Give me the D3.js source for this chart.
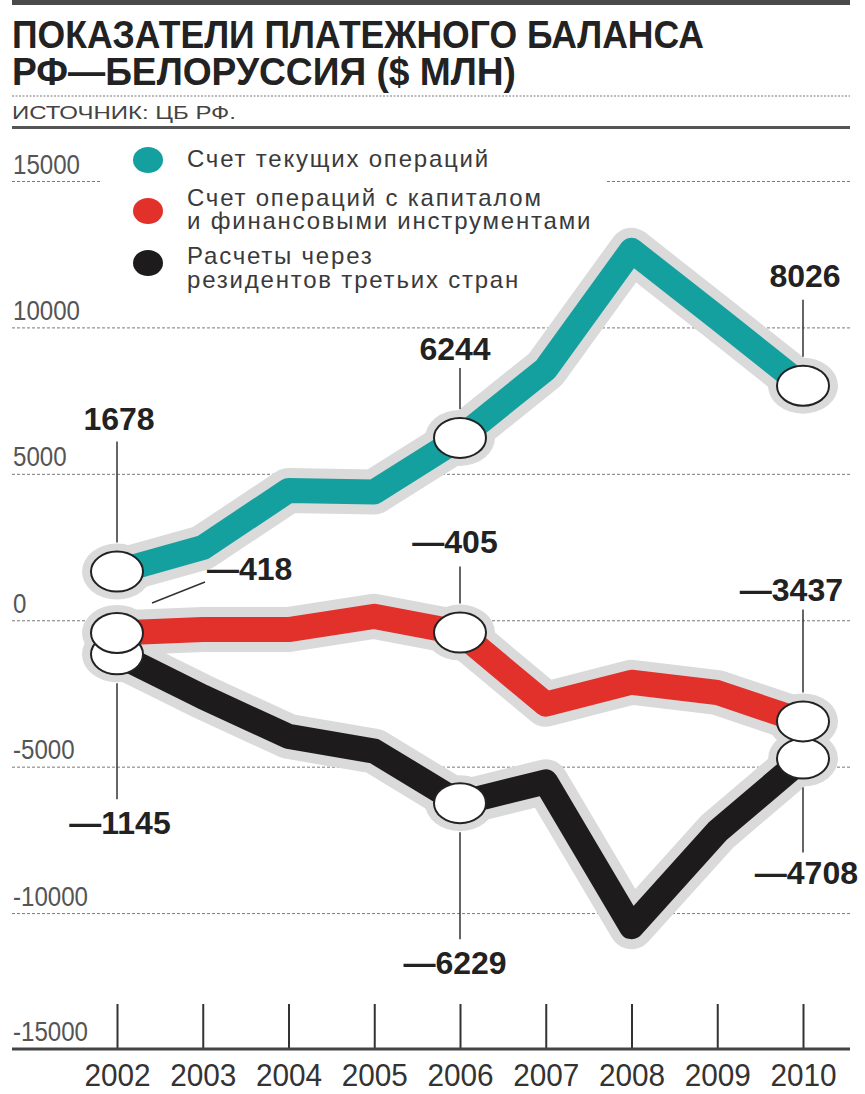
<!DOCTYPE html>
<html>
<head>
<meta charset="utf-8">
<script src="https://cdn.jsdelivr.net/npm/d3@7/dist/d3.min.js"></script>
<style>
  body { margin: 0; background: #fff; }
  svg { display: block; }
</style>
</head>
<body>
<svg id="chart" width="865" height="1094"></svg>
<script>
// Balance of payments indicators, Russia — Belarus, $ mln
const years = [2002, 2003, 2004, 2005, 2006, 2007, 2008, 2009, 2010];
const currentAccount = [1678, 2500, 4450, 4400, 6244, 8600, 12650, 10350, 8026];
const capitalAccount = [-418, -300, -300, 150, -405, -2850, -2100, -2450, -3437];
const thirdCountries = [-1145, -2600, -3950, -4450, -6229, -5500, -10450, -7200, -4708];
const yTicks = [15000, 10000, 5000, 0, -5000, -10000, -15000];
const seriesNames = [
  ["Счет текущих операций"],
  ["Счет операций с капиталом", "и финансовыми инструментами"],
  ["Расчеты через", "резидентов третьих стран"]
];
const labelledYears = [2002, 2006, 2010];

const titleLines = ["ПОКАЗАТЕЛИ ПЛАТЕЖНОГО БАЛАНСА", "РФ—БЕЛОРУССИЯ ($ МЛН)"];
const sourceText = "ИСТОЧНИК: ЦБ РФ.";

// ---- styling ----
const colors = ["#15a0a0", "#e2302a", "#1d1b1b"];
const haloColor = "#dadada";
const font = "'Liberation Sans', Arial, sans-serif";
const lineW = 25, haloW = 45;
const rx = 26, ry = 20;

const svg = d3.select("#chart");
const left = 12, right = 850, plotBottom = 1049;

const x = d3.scaleLinear().domain([2002, 2010]).range([117, 803]);
const y = d3.scaleLinear().domain([-15000, 15000]).range([1060, 181.5]);

// squeeze text horizontally to imitate a condensed face
function condense(sel, f) {
  sel.each(function () {
    const w = this.getComputedTextLength();
    d3.select(this).attr("textLength", w * f).attr("lengthAdjust", "spacingAndGlyphs");
  });
}
function fitWidth(sel, w) {
  sel.attr("textLength", w).attr("lengthAdjust", "spacingAndGlyphs");
}

// ---- header ----
svg.append("rect").attr("x", left).attr("y", 0).attr("width", right - left).attr("height", 5).attr("fill", "#4a4a4a");
const titleWidths = [692, 504];
titleLines.forEach((t, i) => {
  svg.append("text").attr("x", left).attr("y", 48 + i * 37)
    .attr("font-family", font).attr("font-weight", "bold").attr("font-size", 39)
    .attr("fill", "#222").text(t)
    .call(fitWidth, titleWidths[i]);
});
svg.append("line").attr("x1", left).attr("x2", right).attr("y1", 96).attr("y2", 96)
  .attr("stroke", "#777").attr("stroke-width", 1).attr("stroke-dasharray", "2,1.5");
svg.append("text").attr("x", left).attr("y", 119)
  .attr("font-family", font).attr("font-size", 19).attr("fill", "#444").text(sourceText)
  .call(fitWidth, 224);
svg.append("rect").attr("x", left).attr("y", 126).attr("width", right - left).attr("height", 3).attr("fill", "#555");

// ---- grid and y labels ----
const grid = svg.append("g");
yTicks.forEach(v => {
  const gy = y(v);
  if (gy < plotBottom - 2) {
    grid.append("line").attr("x1", left).attr("x2", right).attr("y1", gy).attr("y2", gy)
      .attr("stroke", "#7a7a7a").attr("stroke-width", 1).attr("stroke-dasharray", "3,2");
  }
  grid.append("text").attr("x", 13).attr("y", Math.min(gy, plotBottom) - 8)
    .attr("font-family", font).attr("font-size", 28).attr("fill", "#555")
    .text(v < 0 ? "-" + Math.abs(v) : String(v))
    .call(condense, 0.86);
});

// ---- legend ----
const legend = svg.append("g");
legend.append("rect").attr("x", 100).attr("y", 138).attr("width", 505).attr("height", 160).attr("fill", "#fff");
const legendCy = [160, 211, 263];
const legendBase = [[167], [206, 229], [264, 288]];
const legendItems = [];
seriesNames.forEach((lines, i) => {
  legend.append("ellipse").attr("cx", 148).attr("cy", legendCy[i]).attr("rx", 15).attr("ry", 13)
    .attr("fill", colors[i]);
  lines.forEach((t, j) => {
    legendItems.push(legend.append("text").attr("x", 187).attr("y", legendBase[i][j])
      .attr("font-family", font).attr("font-size", 24).attr("fill", "#3a3a3a").text(t));
  });
});
// open the legend type up with even letter spacing so the first line spans 303px
{
  const first = legendItems[0];
  const n = first.text().length;
  const ls = (303 - first.node().getComputedTextLength()) / n;
  legendItems.forEach(t => t.attr("letter-spacing", ls.toFixed(2)));
}

// ---- x axis ----
const xAxis = d3.axisBottom(x).tickValues(years).tickFormat(d3.format("d"))
  .tickSizeInner(-45).tickSizeOuter(0).tickPadding(0);
const ax = svg.append("g").attr("transform", `translate(0,${plotBottom})`).call(xAxis);
ax.select(".domain").remove();
ax.selectAll(".tick line").attr("stroke", "#333").attr("stroke-width", 2);
ax.selectAll(".tick text").attr("font-family", font).attr("font-size", 32).attr("fill", "#333")
  .attr("y", 37).attr("dy", 0).call(condense, 0.93);
svg.append("line").attr("x1", left).attr("x2", right).attr("y1", plotBottom).attr("y2", plotBottom)
  .attr("stroke", "#444").attr("stroke-width", 3);

// ---- series: halos under everything, then the bands, then the white markers ----
const series = [thirdCountries, capitalAccount, currentAccount];
const seriesColor = [colors[2], colors[1], colors[0]];
const line = d3.line().x((d, i) => x(years[i])).y(d => y(d)).curve(d3.curveLinear);
const haloLayer = svg.append("g"), bandLayer = svg.append("g"), dotLayer = svg.append("g");

series.forEach((vals, k) => {
  const pts = labelledYears.map(yr => ({ px: x(yr), py: y(vals[years.indexOf(yr)]) }));
  haloLayer.append("path").attr("d", line(vals)).attr("fill", "none").attr("stroke", haloColor)
    .attr("stroke-width", haloW).attr("stroke-linejoin", "round").attr("stroke-linecap", "round");
  pts.forEach(d => haloLayer.append("ellipse")
    .attr("cx", d.px).attr("cy", d.py).attr("rx", rx + 9).attr("ry", ry + 8).attr("fill", haloColor));
  bandLayer.append("path").attr("d", line(vals)).attr("fill", "none").attr("stroke", seriesColor[k])
    .attr("stroke-width", lineW).attr("stroke-linejoin", "round").attr("stroke-linecap", "butt");
  pts.forEach(d => dotLayer.append("ellipse")
    .attr("cx", d.px).attr("cy", d.py).attr("rx", rx).attr("ry", ry)
    .attr("fill", "#fff").attr("stroke", "#222").attr("stroke-width", 2));
});

// ---- value callouts ----
// s: series (0 current, 1 capital, 2 third countries); dx/dy place the text baseline from the point
const seriesVals = [currentAccount, capitalAccount, thirdCountries];
const callouts = [
  { s: 0, yr: 2002, dx: 2, dy: -142, anchor: "middle", lead: -130 },
  { s: 0, yr: 2006, dx: -5, dy: -78, anchor: "middle", lead: -70 },
  { s: 0, yr: 2010, dx: 2, dy: -99, anchor: "middle", lead: -86 },
  { s: 1, yr: 2002, dx: 90, dy: -53, anchor: "start", diag: [35, -30, 88, -51] },
  { s: 1, yr: 2006, dx: -5, dy: -80, anchor: "middle", lead: -66 },
  { s: 1, yr: 2010, dx: 40, dy: -120, anchor: "end", lead: -112 },
  { s: 2, yr: 2002, dx: 3, dy: 180, anchor: "middle", lead: 145 },
  { s: 2, yr: 2006, dx: -5, dy: 171, anchor: "middle", lead: 136 },
  { s: 2, yr: 2010, dx: 55, dy: 125, anchor: "end", lead: 94 }
];
const fmt = v => (v < 0 ? "\u2014" + Math.abs(v) : String(v));
const ann = svg.append("g");
callouts.forEach(c => {
  const v = seriesVals[c.s][years.indexOf(c.yr)];
  const px = x(c.yr), py = y(v);
  if (c.diag) {
    ann.append("line").attr("x1", px + c.diag[0]).attr("y1", py + c.diag[1])
      .attr("x2", px + c.diag[2]).attr("y2", py + c.diag[3])
      .attr("stroke", "#333").attr("stroke-width", 1.5);
  } else {
    const edge = c.lead < 0 ? py - ry - 9 : py + ry + 9;
    ann.append("line").attr("x1", px).attr("x2", px).attr("y1", py + c.lead).attr("y2", edge)
      .attr("stroke", "#333").attr("stroke-width", 1.5);
  }
  ann.append("text").attr("x", px + c.dx).attr("y", py + c.dy).attr("text-anchor", c.anchor)
    .attr("font-family", font).attr("font-weight", "bold").attr("font-size", 32)
    .attr("fill", "#222").text(fmt(v));
});
</script>
</body>
</html>
